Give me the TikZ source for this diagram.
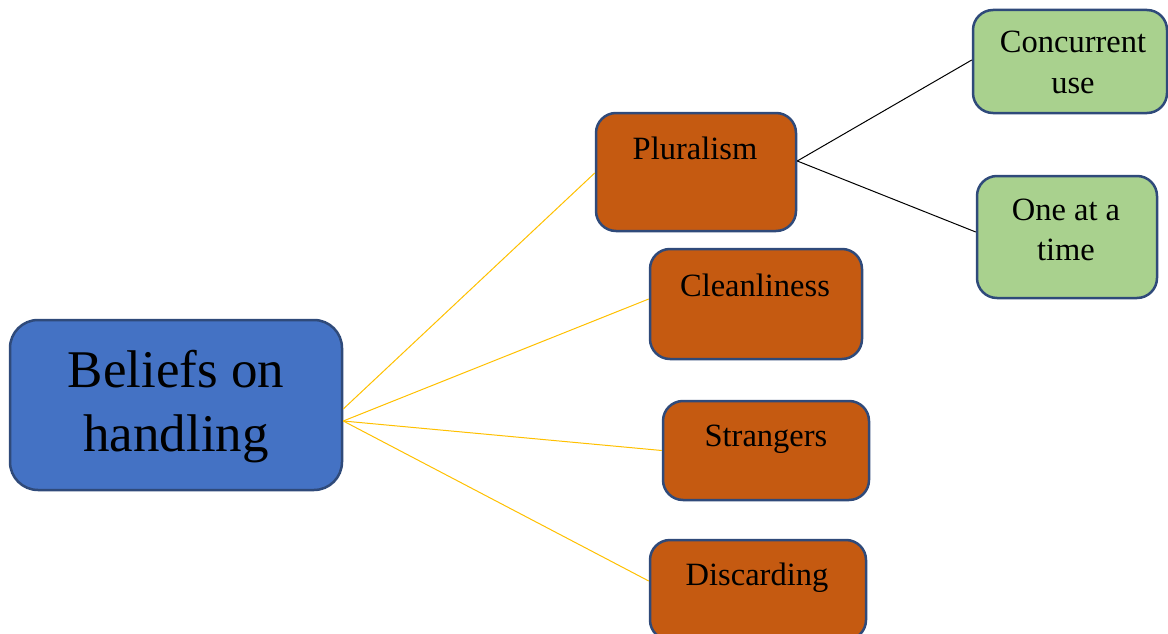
\documentclass[tikz,border=0pt]{standalone}
\usepackage{fontspec}
\setmainfont{Liberation Serif}
\definecolor{bluefill}{HTML}{4472C4}
\definecolor{orangefill}{HTML}{C55A11}
\definecolor{greenfill}{HTML}{A9D18E}
\definecolor{edgeblue}{HTML}{2F4A7A}
\definecolor{linkgold}{HTML}{FFC000}
\tikzset{
  box/.style={draw=edgeblue, line width=2.5pt, rounded corners=20pt, inner sep=0pt},
  rootbox/.style={box, fill=bluefill, rounded corners=28pt},
  topicbox/.style={box, fill=orangefill},
  leafbox/.style={box, fill=greenfill},
  goldlink/.style={draw=linkgold, line width=1pt},
  blacklink/.style={draw=black, line width=1pt},
  boxtext/.style={inner sep=0pt, anchor=base, font=\fontsize{32.5}{40}\selectfont},
}
\begin{document}
\begin{tikzpicture}[x=1pt, y=-1pt]
\useasboundingbox (0,0) rectangle (1168,634);

% main box
\node[rootbox, minimum width=332pt, minimum height=170pt] (bel) at (176,405) {};
\node[inner sep=0pt, align=center, font=\fontsize{53}{64}\selectfont] (belt) at (176,407) {Beliefs on\\handling};

% second level
\node[topicbox, minimum width=200pt, minimum height=118pt] (plur) at (696,172) {};
\node[boxtext] (plurt) at (695,159) {Pluralism};
\node[topicbox, minimum width=212pt, minimum height=110pt] (clean) at (756,304) {};
\node[boxtext] (cleant) at (755,296) {Cleanliness};
\node[topicbox, minimum width=206pt, minimum height=99pt] (strang) at (766,450.5) {};
\node[boxtext] (strangt) at (766,446) {Strangers};
\node[topicbox, minimum width=216pt, minimum height=100pt] (disc) at (758,590) {};
\node[boxtext] (disct) at (757,585) {Discarding};

% third level
\node[leafbox, minimum width=194pt, minimum height=103pt] (conc) at (1070,61.5) {};
\node[boxtext] (conct1) at (1073,53) {Concurrent};
\node[boxtext] (conct2) at (1073,93) {use};
\node[leafbox, minimum width=180pt, minimum height=122pt] (one) at (1067,237) {};
\node[boxtext] (onet1) at (1066,220) {One at a};
\node[boxtext] (onet2) at (1066,260) {time};

% connectors
\draw[goldlink] ([yshift=-4pt]bel.east) -- ([yshift=-1pt]plur.west);
\draw[goldlink] ([yshift=-16pt]bel.east) -- ([yshift=5pt]clean.west);
\draw[goldlink] ([yshift=-16pt]bel.east) -- (strang.west);
\draw[goldlink] ([yshift=-16pt]bel.east) -- ([yshift=9pt]disc.west);
\draw[blacklink] ([yshift=11pt]plur.east) -- ([yshift=1.5pt]conc.west);
\draw[blacklink] ([yshift=11pt]plur.east) -- ([yshift=5pt]one.west);
\end{tikzpicture}
\end{document}
